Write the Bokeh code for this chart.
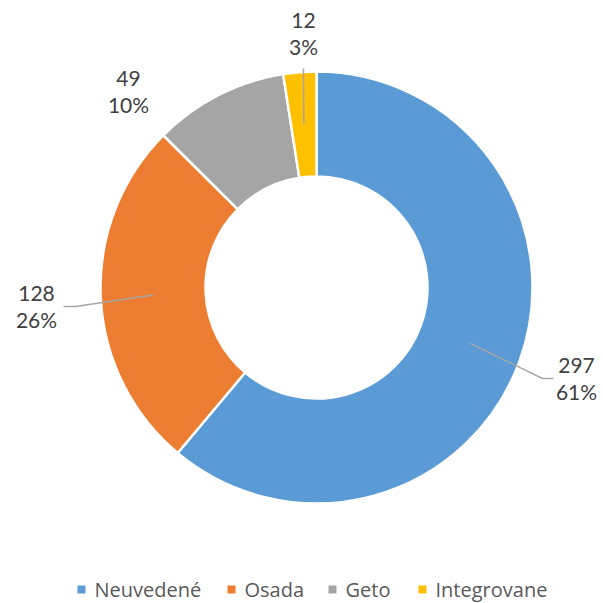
import numpy as np
from bokeh.plotting import figure
from bokeh.models import Range1d, ColumnDataSource
from bokeh.core.properties import value
from bokeh.embed import file_html
from bokeh.resources import INLINE

# ---- data ----
categories = ["Neuvedené", "Osada", "Geto", "Integrovane"]
counts = [297, 128, 49, 12]
pct_labels = ["61%", "26%", "10%", "3%"]
colors = ["#5B9BD5", "#ED7D31", "#A5A5A5", "#FFC000"]

# ---- layout (pixel units, donut centre at 0,0) ----
R_OUT, R_IN = 216, 111
label_pos = [(260, -91), (-280, -19), (-188, 196), (-13, 254)]
leader_pts = [[(226, -91), (237, -91)], [(-241, -19), (-253, -19)], None, [(-13, 219)]]
legend_x = [-235, -85, 16, 106]
legend_y = -302

total = float(sum(counts))
frac = np.array(counts) / total
cum = np.concatenate([[0], np.cumsum(frac)])
start = np.pi / 2 - 2 * np.pi * cum[:-1]
end = np.pi / 2 - 2 * np.pi * cum[1:]
mid = (start + end) / 2

p = figure(width=603, height=603, output_backend="svg", toolbar_location=None,
           x_range=Range1d(-316, 287), y_range=Range1d(-316, 287),
           min_border=0, outline_line_color=None)
p.axis.visible = False
p.grid.visible = False
p.background_fill_color = "white"

src = ColumnDataSource(dict(x=[0] * 4, y=[0] * 4, s=start, e=end, c=colors))
p.annular_wedge(x="x", y="y", inner_radius=R_IN, outer_radius=R_OUT,
                start_angle="s", end_angle="e", direction="clock",
                fill_color="c", line_color="white", line_width=2.5, source=src)

# leader lines
r_mid = (R_IN + R_OUT) / 2
xs, ys = [], []
for i, pts in enumerate(leader_pts):
    if pts is None:
        continue
    ax, ay = r_mid * np.cos(mid[i]), r_mid * np.sin(mid[i])
    xs.append([ax] + [q[0] for q in pts])
    ys.append([ay] + [q[1] for q in pts])
p.multi_line(xs, ys, line_color="#A6A6A6", line_width=1.5)

# data labels
lx = [q[0] for q in label_pos]
ly = [q[1] for q in label_pos]
p.text(lx, ly, text=[str(c) for c in counts], text_align="center", text_baseline="middle",
       y_offset=-13, text_font=value("Lato"), text_font_size="21px", text_color="#404040")
p.text(lx, ly, text=pct_labels, text_align="center", text_baseline="middle",
       y_offset=13, text_font=value("Lato"), text_font_size="21px", text_color="#404040")

# legend
p.scatter(legend_x, [legend_y] * 4, marker="square", size=8, fill_color=colors, line_color=None)
p.text([x + 13 for x in legend_x], [legend_y] * 4, text=categories, text_align="left",
       text_baseline="middle", text_font=value("Open Sans"), text_font_size="20px",
       text_color="#595959")

open("out.html", "w").write(file_html(p, INLINE))
